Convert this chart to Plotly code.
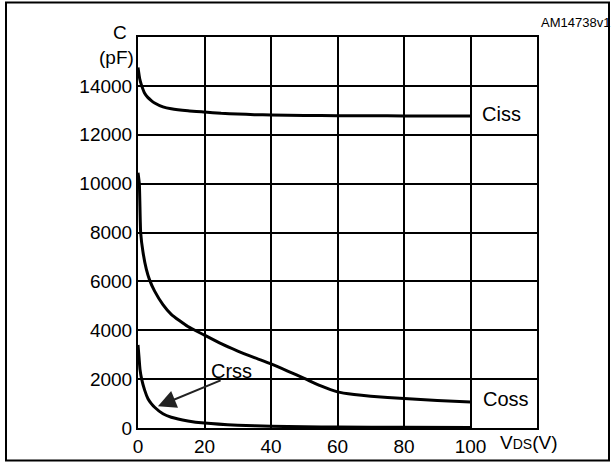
import plotly.graph_objects as go

# ---- data ----
ciss_v = [0, 0.5, 1, 2, 3, 4, 5, 7.5, 10, 15, 20, 25, 30, 35, 40, 50, 60, 70, 80, 90, 100]
ciss_c = [14750, 14300, 14050, 13700, 13520, 13400, 13300, 13140, 13060, 12980, 12930,
          12880, 12850, 12820, 12810, 12790, 12780, 12775, 12770, 12770, 12770]

coss_v = [0, 0.4, 0.8, 1.5, 2.5, 3.5, 5, 7.5, 10, 15, 20, 25, 30, 35, 40, 45, 50, 55,
          60, 65, 70, 80, 90, 100]
coss_c = [10450, 10000, 8000, 7200, 6500, 6050, 5600, 5050, 4650, 4150, 3800, 3450, 3150,
          2880, 2620, 2330, 2030, 1720, 1480, 1370, 1300, 1210, 1130, 1060]

crss_v = [0, 0.3, 0.6, 1.1, 2, 3, 4, 5, 7.5, 10, 15, 20, 30, 40, 50, 60, 80, 100]
crss_c = [3400, 2900, 2400, 2000, 1550, 1200, 1000, 850, 580, 440, 290, 200, 110, 70,
          50, 40, 30, 25]

x_ticks = [0, 20, 40, 60, 80, 100]
y_ticks = [0, 2000, 4000, 6000, 8000, 10000, 12000, 14000]

FONT = "Liberation Sans, Arial, Helvetica, sans-serif"

fig = go.Figure()
for v, c in [(ciss_v, ciss_c), (coss_v, coss_c), (crss_v, crss_c)]:
    fig.add_trace(go.Scatter(x=v, y=c, mode="lines",
                             line=dict(color="black", width=3, shape="spline", smoothing=0.5),
                             showlegend=False, hoverinfo="skip"))

fig.update_layout(
    width=615, height=469,
    margin=dict(l=138, r=78, t=37, b=35),
    paper_bgcolor="white", plot_bgcolor="white",
    font=dict(family=FONT, color="black", size=19),
    showlegend=False,
)
fig.update_xaxes(range=[0, 120], tickvals=x_ticks, ticktext=[str(t) for t in x_ticks],
                 showgrid=True, gridcolor="black", gridwidth=1.5,
                 showline=True, linecolor="black", linewidth=2, mirror=True,
                 zeroline=False, ticks="", tickfont=dict(size=19))
fig.update_yaxes(range=[0, 16000], tickvals=y_ticks, ticktext=[str(t) for t in y_ticks],
                 showgrid=True, gridcolor="black", gridwidth=1.5,
                 showline=True, linecolor="black", linewidth=2, mirror=True,
                 zeroline=False, ticks="", tickfont=dict(size=19))

# outer frame
fig.add_shape(type="rect", xref="paper", yref="paper",
              x0=(6 - 138) / 399, x1=(609 - 138) / 399,
              y0=(434 - 467) / 397, y1=(434 - 2) / 397,
              line=dict(color="black", width=2), fillcolor="rgba(0,0,0,0)", layer="below")

ann = []
ann.append(dict(text="C", x=(120 - 138) / 399, y=(434 - 32) / 397, xref="paper", yref="paper",
                showarrow=False, font=dict(size=19), xanchor="center", yanchor="middle"))
ann.append(dict(text="(pF)", x=(136 - 138) / 399, y=(434 - 58) / 397, xref="paper", yref="paper",
                showarrow=False, font=dict(size=19), xanchor="right", yanchor="middle"))
ann.append(dict(text="AM14738v1", x=(612 - 138) / 399, y=(434 - 22) / 397, xref="paper", yref="paper",
                showarrow=False, font=dict(size=13), xanchor="right", yanchor="middle"))
ann.append(dict(text="V<span style='font-size:14px'>DS</span>(V)", x=(528 - 138) / 399,
                y=(434 - 449) / 397, xref="paper", yref="paper",
                showarrow=False, font=dict(size=19), xanchor="center", yanchor="middle"))
ann.append(dict(text="Ciss", x=109.2, y=12860, xref="x", yref="y", showarrow=False,
                font=dict(size=20), xanchor="center", yanchor="middle"))
ann.append(dict(text="Coss", x=110.7, y=1170, xref="x", yref="y", showarrow=False,
                font=dict(size=20), xanchor="center", yanchor="middle"))
ann.append(dict(text="Crss", x=28, y=2340, xref="x", yref="y", showarrow=False,
                font=dict(size=20), xanchor="center", yanchor="middle"))
ann.append(dict(text="", x=6.0, y=890, ax=25.3, ay=1975, xref="x", yref="y",
                axref="x", ayref="y", showarrow=True, arrowhead=2, arrowsize=1.8,
                arrowwidth=2, arrowcolor="#222"))
fig.update_layout(annotations=ann)

fig.write_html("out.html", config={"displayModeBar": False},
               post_script="document.body.style.margin='0';document.body.style.padding='0';")
